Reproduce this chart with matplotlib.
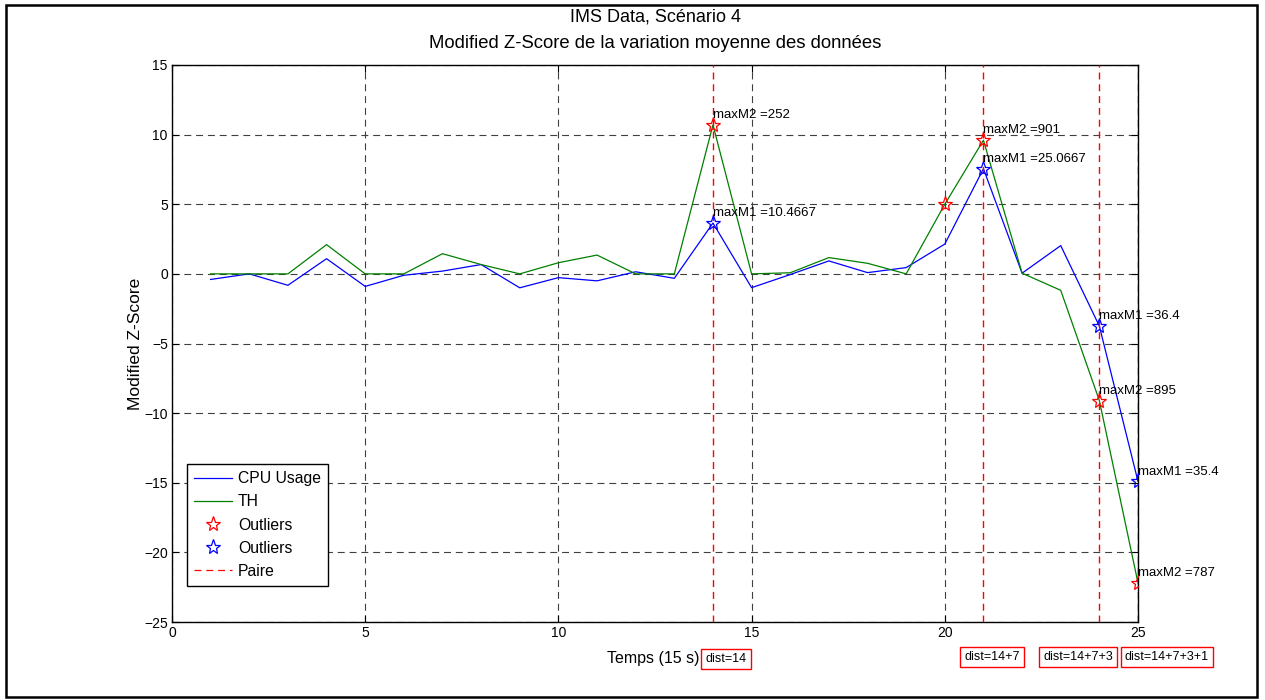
import matplotlib
matplotlib.use("Agg")
import matplotlib.pyplot as plt
from matplotlib.lines import Line2D
from matplotlib.patches import Rectangle

plt.rcParams['font.family'] = ['Liberation Sans', 'DejaVu Sans']
plt.rcParams['lines.scale_dashes'] = False

# ---- data ----
t = list(range(1, 26))
cpu_usage = [-0.4, 0.0, -0.82, 1.09, -0.9, -0.1, 0.2, 0.67, -1.0, -0.27,
             -0.5, 0.15, -0.32, 3.65, -0.99, -0.05, 0.93, 0.09, 0.45, 2.14,
             7.55, 0.05, 2.03, -3.75, -14.9]
th = [0.0, 0.0, 0.0, 2.1, 0.0, 0.0, 1.45, 0.67, 0.0, 0.8,
      1.35, 0.0, 0.0, 10.7, 0.0, 0.08, 1.17, 0.76, 0.0, 5.0,
      9.6, 0.05, -1.18, -9.1, -22.2]
th_outlier_t = [14, 20, 21, 24, 25]
cpu_outlier_t = [14, 21, 24, 25]
paire_t = [14, 21, 24, 25]
th_labels = {14: "maxM2 =252", 21: "maxM2 =901", 24: "maxM2 =895", 25: "maxM2 =787"}
cpu_labels = {14: "maxM1 =10.4667", 21: "maxM1 =25.0667", 24: "maxM1 =36.4", 25: "maxM1 =35.4"}
dist_labels = ["dist=14", "dist=14+7", "dist=14+7+3", "dist=14+7+3+1"]
xticks = [0, 5, 10, 15, 20, 25]
yticks = [-25, -20, -15, -10, -5, 0, 5, 10, 15]

W, H = 1265, 700
fig = plt.figure(figsize=(W / 100, H / 100), dpi=100)
AX_L, AX_R, AX_T, AX_B = 172, 1138, 65, 622
ax = fig.add_axes([AX_L / W, 1 - AX_B / H, (AX_R - AX_L) / W, (AX_B - AX_T) / H])

BLUE = (0, 0, 1)
GREEN = (0, 0.5, 0)
RED = (1, 0, 0)
DASH = (0, (5, 3.5))

ax.plot(t, cpu_usage, color=BLUE, lw=0.9, zorder=3)
ax.plot(t, th, color=GREEN, lw=0.9, zorder=3)

for x in paire_t:
    ax.axvline(x, color=RED, lw=1.0, ls=DASH, zorder=3.5)

th_map = dict(zip(t, th))
cpu_map = dict(zip(t, cpu_usage))
ax.plot(th_outlier_t, [th_map[x] for x in th_outlier_t], ls='none', marker='*',
        ms=11, mfc='none', mec=RED, mew=0.9, zorder=4)
ax.plot(cpu_outlier_t, [cpu_map[x] for x in cpu_outlier_t], ls='none', marker='*',
        ms=11, mfc='none', mec=BLUE, mew=0.9, zorder=4)

for x, s in th_labels.items():
    ax.text(x, th_map[x] + 0.7, s, fontsize=9.5, ha='left', va='center', zorder=5)
for x, s in cpu_labels.items():
    ax.text(x, cpu_map[x] + 0.7, s, fontsize=9.5, ha='left', va='center', zorder=5)

ax.set_xlim(0, 25)
ax.set_ylim(-25, 15)
ax.set_xticks(xticks)
ax.set_yticks(yticks)
ax.tick_params(direction='in', top=True, right=True, length=5, width=0.8,
               labelsize=10, pad=3)
ax.grid(True, color=(0.25, 0.25, 0.25), lw=0.8, ls=DASH)
ax.set_axisbelow(True)
for sp in ax.spines.values():
    sp.set_linewidth(1.0)
    sp.set_zorder(2)

ax.set_ylabel("Modified Z-Score", fontsize=12.5)
ax.yaxis.label.set_va('center')
ax.yaxis.set_label_coords((135 - AX_L) / (AX_R - AX_L), 0.5)
ax.set_xlabel("Temps (15 s)", fontsize=11.5)
ax.xaxis.label.set_va('center')
ax.xaxis.set_label_coords((653 - AX_L) / (AX_R - AX_L), (AX_B - 659) / (AX_B - AX_T))

fig.text(0.5 * (AX_L + AX_R) / W, 1 - 17 / H, "IMS Data, Scénario 4",
         fontsize=13, ha='center', va='center')
fig.text(0.5 * (AX_L + AX_R) / W, 1 - 43 / H,
         "Modified Z-Score de la variation moyenne des données",
         fontsize=13.3, ha='center', va='center')

# dist boxes (figure pixel coordinates)
dist_pos = [(726, 659), (992, 657), (1078, 657), (1167, 657)]
for (px, py), s in zip(dist_pos, dist_labels):
    fig.text(px / W, 1 - py / H, s, fontsize=9, ha='center', va='center',
             bbox=dict(boxstyle='square,pad=0.32', fc='white', ec=RED, lw=1.0))

# legend
handles = [
    Line2D([], [], color=BLUE, lw=0.9),
    Line2D([], [], color=GREEN, lw=0.9),
    Line2D([], [], ls='none', marker='*', ms=11, mfc='none', mec=RED, mew=0.9),
    Line2D([], [], ls='none', marker='*', ms=11, mfc='none', mec=BLUE, mew=0.9),
    Line2D([], [], color=RED, lw=0.9, ls=DASH),
]
labels = ["CPU Usage", "TH", "Outliers", "Outliers", "Paire"]
leg = ax.legend(handles, labels, loc='lower left',
                bbox_to_anchor=((187 - AX_L) / (AX_R - AX_L), (AX_B - 586) / (AX_B - AX_T)),
                fontsize=11.3, frameon=True, fancybox=False, framealpha=1,
                edgecolor='black', handlelength=2.4, handletextpad=0.4,
                labelspacing=0.52, borderpad=0.45, borderaxespad=0)
leg.get_frame().set_linewidth(1.0)

# outer figure frame
fig.patches.append(Rectangle((6 / W, 1 - 697 / H), (1257 - 6) / W, (697 - 5) / H,
                             transform=fig.transFigure, fill=False, ec='black', lw=1.8))

fig.savefig("out.png", dpi=100)
